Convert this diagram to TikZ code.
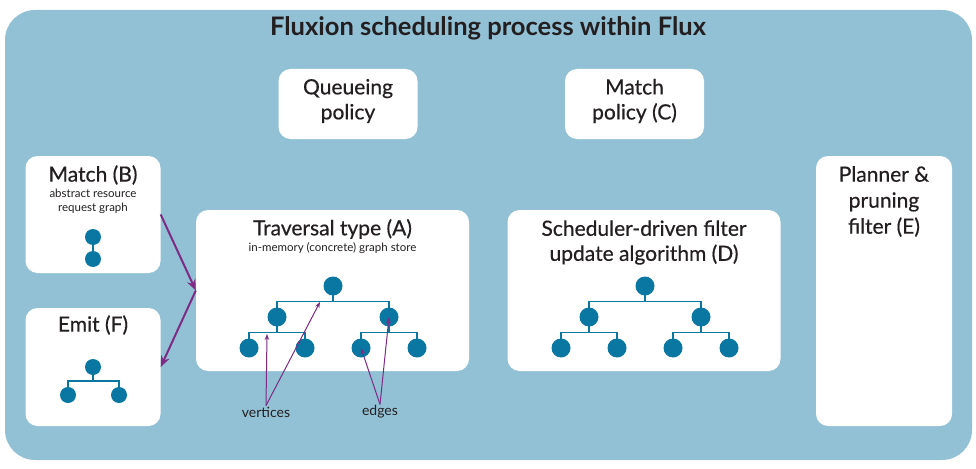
\documentclass[tikz,border=0pt]{standalone}
\usepackage{fontspec}
\setmainfont{Lato}
\newfontfamily\medfont[FakeBold=0.5]{Lato}
\definecolor{fxpanel}{HTML}{92C1D6}
\definecolor{fxblue}{HTML}{0A77A3}
\definecolor{fxpurple}{HTML}{7D2B84}
\definecolor{fxtext}{HTML}{231F20}
\usetikzlibrary{arrows.meta,positioning,calc}

\begin{document}
\begin{tikzpicture}[x=1pt,y=-1pt,
  box/.style={fill=white, rounded corners=12pt, inner sep=0pt},
  boxtitle/.style={font=\medfont\fontsize{21}{25}\selectfont, text=fxtext, align=center},
  subtitle/.style={font=\fontsize{11.5}{14}\selectfont, text=fxtext, align=center},
  vtx/.style={circle, fill=fxblue, inner sep=0pt, minimum size=#1},
  vtx/.default=19pt,
  edge/.style={draw=fxblue, line width=1.3pt},
  arr/.style={-{Stealth[length=11pt,width=9pt]}, line width=2pt, fxpurple},
  pointer/.style={-{Stealth[length=6pt,width=4.5pt]}, line width=1pt, fxpurple},
  note/.style={font=\fontsize{14}{16}\selectfont, text=fxtext, inner sep=1pt}
]
  \useasboundingbox (0,0) rectangle (976,468);

  % Panel
  \fill[fxpanel, rounded corners=30pt] (5,10) rectangle (972,460);
  \node[font=\bfseries\fontsize{25.5}{30}\selectfont, text=fxtext] (title) at (488,28)
    {Fluxion scheduling process within Flux};

  % Boxes
  \node[box, minimum width=139pt, minimum height=70pt] (queue) at (348,104) {};
  \node[box, minimum width=139pt, minimum height=70pt] (mpol) at (634.5,104) {};
  \node[box, minimum width=135pt, minimum height=117pt] (match) at (93,214.5) {};
  \node[box, minimum width=135pt, minimum height=118pt] (emit) at (93,367) {};
  \node[box, minimum width=273pt, minimum height=161pt] (trav) at (332.5,290.5) {};
  \node[box, minimum width=273pt, minimum height=161pt] (filt) at (644,290.5) {};
  \node[box, minimum width=136pt, minimum height=270pt] (plan) at (884,291) {};

  % Box texts
  \node[boxtitle] (queuetxt) at (348,101) {Queueing\\policy};
  \node[boxtitle] (mpoltxt) at (634.5,101) {Match\\policy (C)};
  \node[boxtitle] (matchtxt) at (93,175) {Match (B)};
  \node[subtitle] (matchsub) at (93,201.5) {abstract resource\\request graph};
  \node[boxtitle] (emittxt) at (93,325) {Emit (F)};
  \node[boxtitle] (travtxt) at (332.5,229) {Traversal type (A)};
  \node[subtitle] (travsub) at (332.5,248) {in-memory (concrete) graph store};
  \node[boxtitle] (filttxt) at (644,242.5) {Scheduler-driven filter\\update algorithm (D)};
  \node[boxtitle, font=\medfont\fontsize{21}{26}\selectfont] (plantxt) at (884,201.5)
    {Planner \&\\pruning\\filter (E)};

  % Graph in Match (B)
  \node[vtx=16pt] (b0) at (93,237) {};
  \node[vtx=16pt] (b1) at (93,259) {};
  \draw[edge] (b0) -- (b1);

  % Graph in Emit (F)
  \node[vtx=16pt] (e0) at (93,367) {};
  \node[vtx=16pt] (e1) at (68,395) {};
  \node[vtx=16pt] (e2) at (119,395) {};
  \foreach \p/\c in {e0/e1,e0/e2}
    \draw[edge] (\p.center) |- ($(\p)!0.5!(\c)$) -| (\c.center);

  % Graph store (A)
  \node[vtx] (a0) at (333,286) {};
  \node[vtx] (a1) at (277,317) {};
  \node[vtx] (a2) at (389,317) {};
  \node[vtx] (a3) at (249,348) {};
  \node[vtx] (a4) at (305,348) {};
  \node[vtx] (a5) at (361,348) {};
  \node[vtx] (a6) at (417,348) {};
  \foreach \p/\c in {a0/a1,a0/a2,a1/a3,a1/a4,a2/a5,a2/a6}
    \draw[edge] (\p.center) |- ($(\p)!0.5!(\c)$) -| (\c.center);

  % Filter tree (D)
  \node[vtx] (d0) at (645,286) {};
  \node[vtx] (d1) at (589,317) {};
  \node[vtx] (d2) at (701,317) {};
  \node[vtx] (d3) at (561,348) {};
  \node[vtx] (d4) at (617,348) {};
  \node[vtx] (d5) at (673,348) {};
  \node[vtx] (d6) at (729,348) {};
  \foreach \p/\c in {d0/d1,d0/d2,d1/d3,d1/d4,d2/d5,d2/d6}
    \draw[edge] (\p.center) |- ($(\p)!0.5!(\c)$) -| (\c.center);

  % Flow arrows
  \draw[arr] (match.east) -- (trav.west);
  \draw[arr] (trav.west) -- (emit.east);

  % Labels
  \node[note] (vert) at (266,412) {vertices};
  \node[note] (edg) at (380,412) {edges};
  \coordinate (lowbar) at (267,334);
  \coordinate (topbar) at (320,302);
  \draw[pointer] (vert.north) -- (lowbar);
  \draw[pointer] (vert.north) -- (topbar);
  \draw[pointer] (edg.north) -- (a5.center);
  \draw[pointer] (edg.north) -- (a2.center);
\end{tikzpicture}
\end{document}
